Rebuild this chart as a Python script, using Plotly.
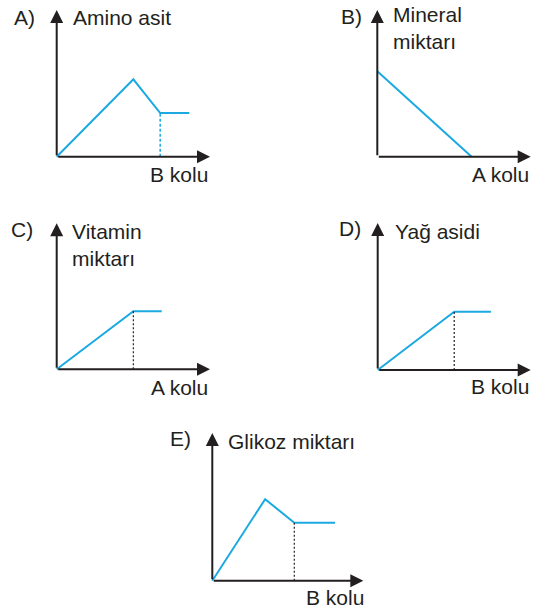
import plotly.graph_objects as go

# ---- data (axis units: each horizontal axis runs 0..10) ----
a_x = [0, 5.0, 6.75, 8.65]
a_y = [0, 5.05, 2.85, 2.85]
a_drop_x = 6.75

b_x = [0, 6.15]
b_y = [5.57, 0]

c_x = [0, 5.0, 6.85]
c_y = [0, 3.79, 3.79]
c_drop_x = 5.0

d_x = [0, 5.0, 7.4]
d_y = [0, 3.81, 3.81]
d_drop_x = 5.0

e_x = [0, 3.5, 5.43, 8.13]
e_y = [0, 5.4, 3.84, 3.84]
e_drop_x = 5.43

letters = ["A)", "B)", "C)", "D)", "E)"]
y_titles = ["Amino asit", "Mineral<br>miktarı", "Vitamin<br>miktarı", "Yağ asidi", "Glikoz miktarı"]
x_titles = ["B kolu", "A kolu", "A kolu", "B kolu", "B kolu"]

# ---- layout constants ----
W, H = 539, 614
PAD = 10
BLUE = "#1ba9e1"
INK = "#231f20"
FONT = "Liberation Sans, Arial, sans-serif"
FS = 21

# panel geometry in pixels: origin x, origin y, x-axis length, y-axis length
panels = [
    (56.7, 156.7, 153.3, 146.7),
    (377.3, 156.7, 153.4, 146.7),
    (56.7, 369.3, 153.3, 146.0),
    (377.7, 370.0, 153.0, 147.0),
    (212.3, 580.7, 151.0, 147.7),
]
XR = 10.0

fig = go.Figure()
layout = dict(width=W, height=H, margin=dict(l=0, r=0, t=0, b=0),
              paper_bgcolor="white", plot_bgcolor="rgba(0,0,0,0)",
              showlegend=False, annotations=[])

for i, (ox, oy, lx, ly) in enumerate(panels):
    n = "" if i == 0 else str(i + 1)
    ppu = lx / XR              # same pixel scale on both axes
    yr = ly / ppu
    pl, pr = min(PAD, ox), min(PAD, W - ox - lx)
    pb, pt = min(PAD, H - oy), min(PAD, oy - ly)
    layout["xaxis" + n] = dict(domain=[(ox - pl) / W, (ox + lx + pr) / W],
                               range=[-pl / ppu, XR + pr / ppu],
                               visible=False, anchor="y" + n, fixedrange=True)
    layout["yaxis" + n] = dict(domain=[1 - (oy + pb) / H, 1 - (oy - ly - pt) / H],
                               range=[-pb / ppu, yr + pt / ppu],
                               visible=False, anchor="x" + n, fixedrange=True)
    xref, yref = "x" + n, "y" + n
    # axis arrows
    for tip in [(XR, 0), (0, yr)]:
        layout["annotations"].append(dict(
            x=tip[0], y=tip[1], ax=0, ay=0, xref=xref, yref=yref,
            axref=xref, ayref=yref, text="", showarrow=True,
            arrowhead=2, arrowsize=1.3, arrowwidth=2, arrowcolor=INK, standoff=0))

fig.update_layout(**layout)

series = [(a_x, a_y), (b_x, b_y), (c_x, c_y), (d_x, d_y), (e_x, e_y)]
for i, (xs, ys) in enumerate(series):
    n = "" if i == 0 else str(i + 1)
    fig.add_trace(go.Scatter(x=xs, y=ys, mode="lines", xaxis="x" + n, yaxis="y" + n,
                             line=dict(color=BLUE, width=2), hoverinfo="skip"))

# drop lines from the plateau start to the horizontal axis
drops = [(0, a_drop_x, a_y[2], BLUE, "3px,2px", 1.5),
         (2, c_drop_x, c_y[1], INK, "2px,2px", 1.2),
         (3, d_drop_x, d_y[1], INK, "2px,2px", 1.2),
         (4, e_drop_x, e_y[2], INK, "2px,2px", 1.2)]
for i, xv, yv, col, dash, w in drops:
    n = "" if i == 0 else str(i + 1)
    fig.add_trace(go.Scatter(x=[xv, xv], y=[0, yv], mode="lines", xaxis="x" + n, yaxis="y" + n,
                             line=dict(color=col, width=w, dash=dash), hoverinfo="skip"))

def px(x):
    return x / W

def py(y):
    return 1 - y / H

# label anchors in pixels:
# letter right edge, letter baseline, title left, title baseline, x-title right, x-title baseline
label_pos = [
    (36.7, 25.7, 70.5, 25.7, 210.0, 183.3),
    (364.0, 25.0, 391.0, 25.0, 530.7, 183.0),
    (35.0, 238.3, 70.0, 241.7, 210.0, 396.0),
    (362.7, 236.7, 392.7, 240.0, 530.7, 395.0),
    (193.3, 446.7, 226.0, 450.0, 366.0, 606.0),
]
ann = list(fig.layout.annotations)
font = dict(family=FONT, size=FS, color=INK)
for i, (lr, lb, tl, tb, xr_, xb) in enumerate(label_pos):
    ann.append(dict(x=px(lr), y=py(lb), xref="paper", yref="paper", text=letters[i],
                    showarrow=False, xanchor="right", yanchor="bottom", font=font, yshift=-5))
    ann.append(dict(x=px(tl), y=py(tb), xref="paper", yref="paper", text=y_titles[i],
                    showarrow=False, xanchor="left", yanchor="bottom", align="left",
                    font=font, yshift=-5 - (25 if "<br>" in y_titles[i] else 0)))
    ann.append(dict(x=px(xr_), y=py(xb), xref="paper", yref="paper", text=x_titles[i],
                    showarrow=False, xanchor="right", yanchor="bottom", font=font, yshift=-5))
fig.update_layout(annotations=ann)

fig.write_html("out.html")
